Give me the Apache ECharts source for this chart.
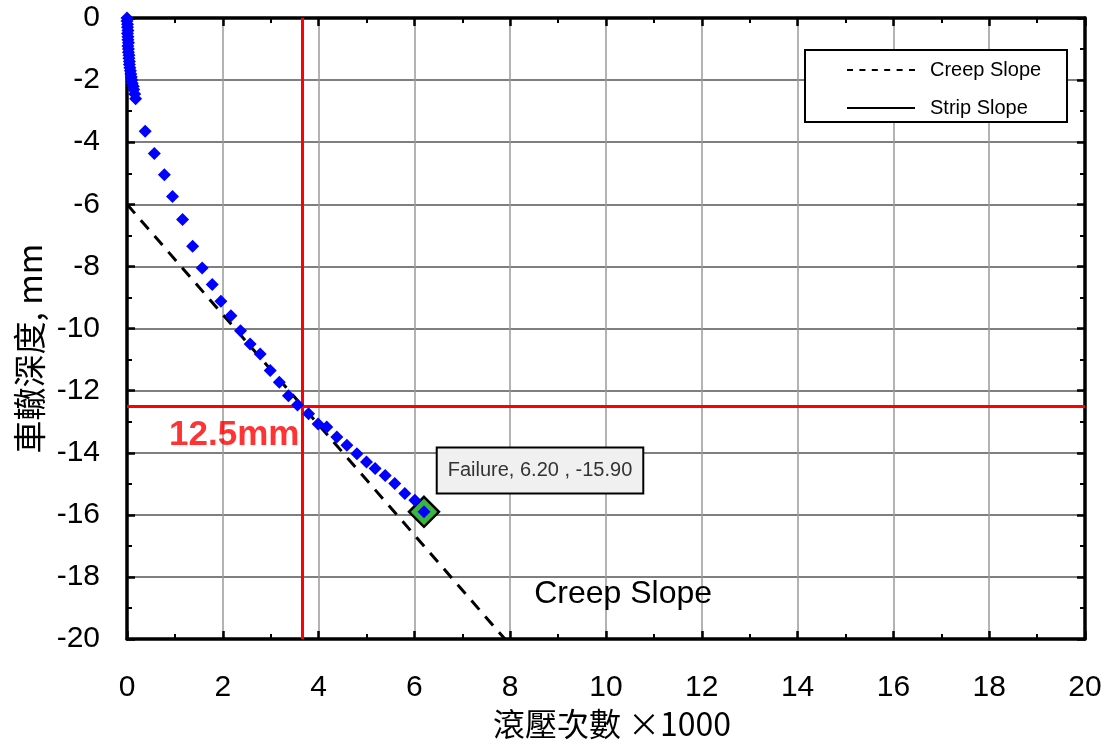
<!DOCTYPE html>
<html>
<head>
<meta charset="utf-8">
<script src="https://cdn.jsdelivr.net/npm/echarts@6/dist/echarts.min.js"></script>
<style>
  html, body { margin: 0; padding: 0; background: #ffffff; }
  #chart { width: 1110px; height: 745px; }
</style>
</head>
<body>
<div id="chart"></div>
<script>
// Passes of the roller (×1000) and measured rut depth (mm)
const passes = [
  0, 0, 0.01, 0.01, 0.02, 0.01, 0.02, 0.02, 0.03, 0.02, 0.03, 0.03, 0.04, 0.04,
  0.05, 0.05, 0.06, 0.07, 0.08, 0.09, 0.10, 0.11, 0.13, 0.14, 0.16, 0.18,
  0.38, 0.57, 0.78, 0.95, 1.16, 1.37, 1.57, 1.78, 1.96, 2.17, 2.37, 2.57, 2.78,
  2.99, 3.18, 3.37, 3.56, 3.79, 3.99, 4.17, 4.38, 4.59, 4.80, 5.00, 5.18, 5.39,
  5.59, 5.80, 6.01, 6.20
];
const rutDepth = [
  0, -0.1, -0.2, -0.3, -0.4, -0.5, -0.6, -0.7, -0.8, -0.9, -1.0, -1.1, -1.2, -1.3,
  -1.4, -1.5, -1.6, -1.7, -1.8, -1.9, -2.0, -2.1, -2.2, -2.3, -2.45, -2.6,
  -3.65, -4.36, -5.05, -5.75, -6.49, -7.35, -8.05, -8.58, -9.12, -9.59, -10.07,
  -10.50, -10.82, -11.35, -11.73, -12.16, -12.46, -12.74, -13.07, -13.17, -13.49,
  -13.76, -14.03, -14.30, -14.51, -14.73, -14.99, -15.31, -15.53, -15.90
];

// Creep slope fitted through the linear part
const creepX = [0, 7.89];
const creepY = [-6, -20];

// Failure point
const failureX = 6.20;
const failureY = -15.90;

// Rut-depth limit and the passes at which it is reached
const rutLimit = -12.5;
const limitPasses = 3.65;

// Axis ticks
const xTicks = [0, 2, 4, 6, 8, 10, 12, 14, 16, 18, 20];
const yTicks = [0, -2, -4, -6, -8, -10, -12, -14, -16, -18, -20];

const latin = 'Liberation Sans, Arial, sans-serif';
const cjk = '"Noto Sans CJK TC", "Noto Sans CJK SC", sans-serif';

const points = passes.map((x, i) => [x, rutDepth[i]]);
const creepLine = creepX.map((x, i) => [x, creepY[i]]);

// Legend icons: a short-dashed line and a solid line
const dashedIcon = 'path://M0,0h6v1h-6z M12.4,0h6v1h-6z M24.8,0h6v1h-6z M37.2,0h6v1h-6z M49.6,0h6v1h-6z M62,0h6v1h-6z';
const solidIcon = 'path://M0,0h68v1h-68z';

function frameAxis(extra) {
  return Object.assign({
    type: 'value',
    interval: 2,
    axisLine: { show: true, onZero: false, lineStyle: { color: '#000', width: 3.5 } },
    axisTick: { show: true, inside: true, length: 8, lineStyle: { color: '#000', width: 2.5 } },
    minorTick: { show: true, splitNumber: 2, length: 5, lineStyle: { color: '#000', width: 2 } },
    axisLabel: { show: false },
    splitLine: { show: false }
  }, extra);
}

const chart = echarts.init(document.getElementById('chart'));
chart.setOption({
  animation: false,
  backgroundColor: '#ffffff',
  grid: { left: 127, right: 25, top: 18, bottom: 104, containLabel: false },
  xAxis: [
    frameAxis({
      min: xTicks[0], max: xTicks[xTicks.length - 1], position: 'bottom',
      name: '滾壓次數 ×1000', nameLocation: 'middle', nameGap: 60,
      nameTextStyle: { fontFamily: cjk, fontSize: 32, color: '#000', padding: [0, 0, 0, 12] },
      axisLabel: { show: true, margin: 34, fontSize: 30, color: '#000', fontFamily: latin },
      splitLine: { show: true, lineStyle: { color: '#9a9a9a', width: 1.5 } }
    }),
    frameAxis({ min: xTicks[0], max: xTicks[xTicks.length - 1], position: 'top' })
  ],
  yAxis: [
    frameAxis({
      min: yTicks[yTicks.length - 1], max: yTicks[0], position: 'left',
      name: '車轍深度, mm', nameLocation: 'middle', nameGap: 62,
      nameTextStyle: { fontFamily: cjk, fontSize: 33, color: '#000', padding: [0, 40, 0, 0] },
      axisLabel: { show: true, margin: 27, fontSize: 30, color: '#000', fontFamily: latin },
      splitLine: { show: true, lineStyle: { color: '#555', width: 1.5 } }
    }),
    frameAxis({ min: yTicks[yTicks.length - 1], max: yTicks[0], position: 'right' })
  ],
  legend: {
    orient: 'vertical',
    left: 842, top: 55,
    itemWidth: 68, itemHeight: 2, itemGap: 18,
    symbolKeepAspect: false,
    z: 20,
    textStyle: { fontFamily: latin, fontSize: 20, lineHeight: 20, color: '#000', padding: [0, 0, 0, 10] },
    data: [
      { name: 'Creep Slope', icon: dashedIcon, itemStyle: { color: '#000', opacity: 1 } },
      { name: 'Strip Slope', icon: solidIcon, itemStyle: { color: '#000', opacity: 1 } }
    ]
  },
  graphic: [{
    type: 'rect', z: 10,
    shape: { x: 805, y: 50, width: 262, height: 72 },
    style: { fill: '#fff', stroke: '#000', lineWidth: 2 }
  }],
  series: [
    {
      name: 'Creep Slope', type: 'line', data: creepLine, symbol: 'none', z: 3,
      color: '#000',
      lineStyle: { color: '#000', width: 3, type: [12, 9] },
      markPoint: {
        symbol: 'circle', symbolSize: 0, silent: true,
        data: [{ coord: [8.5, -18.55] }],
        label: {
          show: true, position: 'right', distance: 0, formatter: 'Creep Slope',
          fontFamily: latin, fontSize: 32, color: '#000'
        }
      }
    },
    {
      name: 'Strip Slope', type: 'line', data: [], symbol: 'none',
      color: '#000',
      lineStyle: { color: '#000', width: 2 }
    },
    {
      name: 'limit', type: 'line', data: [], symbol: 'none', z: 4,
      markLine: {
        silent: true, symbol: 'none', animation: false,
        label: { show: false },
        lineStyle: { color: '#ff0000', width: 3, type: 'solid' },
        data: [{ xAxis: limitPasses }, { yAxis: rutLimit }]
      }
    },
    {
      name: 'limitLabel', type: 'scatter', symbolSize: 0, z: 6,
      data: [[limitPasses - 0.05, rutLimit - 0.95]],
      label: {
        show: true, position: 'left', distance: 0,
        formatter: () => Math.abs(rutLimit) + 'mm',
        fontFamily: latin, fontSize: 35, fontWeight: 'bold', color: '#ff0000'
      }
    },
    {
      name: 'Failure', type: 'scatter', symbol: 'diamond', symbolSize: 30, z: 7,
      data: [[failureX, failureY]],
      itemStyle: { color: '#3bb53b', borderColor: '#000', borderWidth: 2.5, opacity: 1 },
      label: {
        show: true, position: [30, -47], align: 'left', verticalAlign: 'top',
        formatter: () => 'Failure, ' + failureX.toFixed(2) + ' , ' + failureY.toFixed(2),
        fontFamily: latin, fontSize: 20, lineHeight: 22, color: '#333',
        backgroundColor: '#f0f0f0', borderColor: '#000', borderWidth: 2,
        padding: [11, 10]
      }
    },
    {
      name: 'Rut depth', type: 'scatter', symbol: 'diamond', symbolSize: 13, z: 8,
      data: points,
      itemStyle: { color: '#0000ff', opacity: 1 }
    }
  ]
});
</script>
</body>
</html>
